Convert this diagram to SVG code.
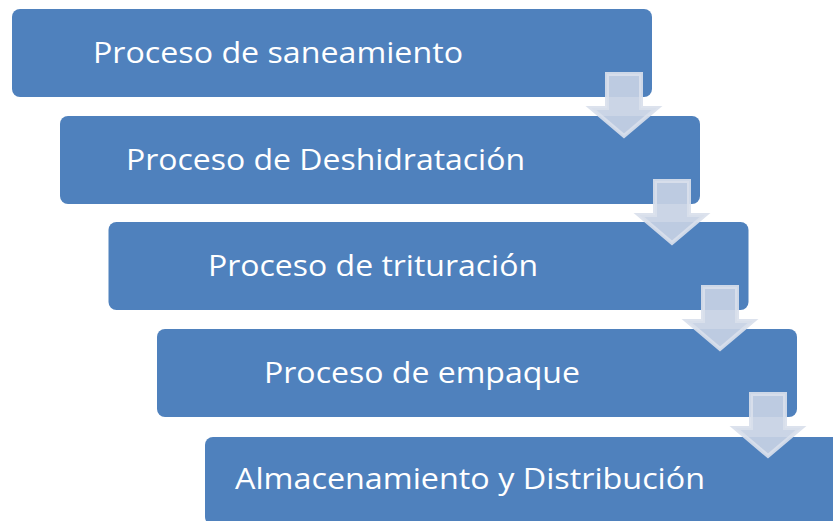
<svg xmlns="http://www.w3.org/2000/svg" xmlns:xlink="http://www.w3.org/1999/xlink" width="833" height="521" viewBox="0 0 833 521">
<style>
.box{fill:#4f81bd}
.lbl{font-family:"Open Sans","Noto Sans","Liberation Sans",sans-serif;font-size:30px;fill:#ffffff;text-anchor:middle}
.arr{fill:#c7d1e4;fill-opacity:0.92;stroke:#d9dfec;stroke-opacity:0.92;stroke-width:4;stroke-linejoin:miter}
</style>
<defs>
<path id="arrow" d="M2,2 H36 V36 H52 L19,64 L-14,36 H2 Z"/>
</defs>
<rect width="833" height="521" fill="#ffffff"/>
<g id="node1">
<rect class="box" x="12" y="9" width="640" height="88" rx="8"/>
<text class="lbl" x="278" y="63" textLength="370" lengthAdjust="spacingAndGlyphs">Proceso de saneamiento</text>
</g>
<g id="node2">
<rect class="box" x="60" y="116" width="640" height="88" rx="8"/>
<text class="lbl" x="325.5" y="170" textLength="399" lengthAdjust="spacingAndGlyphs">Proceso de Deshidratación</text>
</g>
<g id="node3">
<rect class="box" x="108.5" y="222" width="640" height="88" rx="8"/>
<text class="lbl" x="373" y="276" textLength="330" lengthAdjust="spacingAndGlyphs">Proceso de trituración</text>
</g>
<g id="node4">
<rect class="box" x="157" y="329" width="640" height="88" rx="8"/>
<text class="lbl" x="422" y="383" textLength="316" lengthAdjust="spacingAndGlyphs">Proceso de empaque</text>
</g>
<g id="node5">
<rect class="box" x="205" y="437" width="640" height="88" rx="8"/>
<text class="lbl" x="470" y="489" textLength="470" lengthAdjust="spacingAndGlyphs">Almacenamiento y Distribución</text>
</g>
<g id="connectors">
<use xlink:href="#arrow" class="arr" transform="translate(605,72)"/>
<use xlink:href="#arrow" class="arr" transform="translate(653,179)"/>
<use xlink:href="#arrow" class="arr" transform="translate(701,285)"/>
<use xlink:href="#arrow" class="arr" transform="translate(749,392)"/>
</g>
</svg>
